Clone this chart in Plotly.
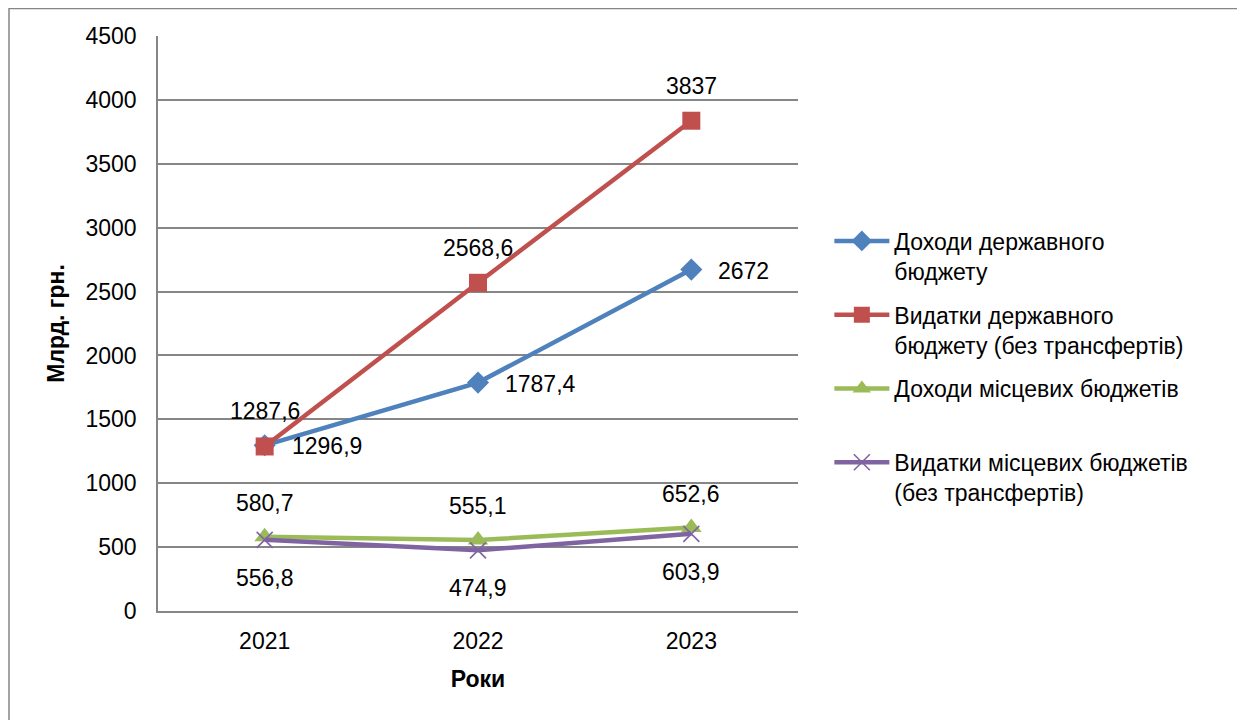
import plotly.graph_objects as go

years = ["2021", "2022", "2023"]
state_revenue = [1296.9, 1787.4, 2672]
state_spending = [1287.6, 2568.6, 3837]
local_revenue = [580.7, 555.1, 652.6]
local_spending = [556.8, 474.9, 603.9]

names = [
    "Доходи державного<br>бюджету",
    "Видатки державного<br>бюджету (без трансфертів)",
    "Доходи місцевих бюджетів<br> ",
    "Видатки місцевих бюджетів<br>(без трансфертів)",
]
y_ticks = list(range(0, 4501, 500))

FONT = "Liberation Sans, Arial, sans-serif"
FS = 23


def fmt(v):
    return f"{v:g}".replace(".", ",")


fig = go.Figure()
series = [
    (state_revenue, "#4F81BD", dict(symbol="diamond", size=17)),
    (state_spending, "#C0504D", dict(symbol="square", size=18)),
    (local_revenue, "#9BBB59", dict(symbol="triangle-up", size=18)),
    (local_spending, "#8064A2", dict(symbol="x-thin", size=16,
                                     line=dict(width=1.6, color="#8064A2"))),
]
for i, (vals, color, marker) in enumerate(series):
    fig.add_trace(go.Scatter(
        x=years, y=vals, name=names[i], mode="lines+markers",
        line=dict(color=color, width=4.5),
        marker=dict(color=color, **marker),
        legendgroup=str(i),
    ))

# data labels
label_style = [
    (state_revenue, dict(xanchor="left", xshift=25, yshift=-1)),
    (state_spending, dict(xanchor="center", yshift=35)),
    (local_revenue, dict(xanchor="center", yshift=34)),
    (local_spending, dict(xanchor="center", yshift=-38)),
]
for vals, style in label_style:
    for k, v in enumerate(vals):
        fig.add_annotation(x=k, y=v, xref="x", yref="y", text=fmt(v),
                           showarrow=False,
                           font=dict(size=FS, color="black", family=FONT),
                           **style)

fig.add_shape(type="rect", xref="paper", yref="paper",
              x0=-0.2328, x1=1.9, y0=-0.4, y1=1.0478,
              line=dict(color="#868686", width=1.5), layer="below")

fig.update_layout(
    width=1237, height=712,
    margin=dict(l=150, r=447, t=28, b=109),
    paper_bgcolor="white", plot_bgcolor="white",
    font=dict(family=FONT, size=FS, color="black"),
    showlegend=True,
    legend=dict(x=1.049, y=0.681, xanchor="left", yanchor="top",
                valign="top", itemwidth=55, tracegroupgap=11,
                font=dict(size=FS, family=FONT)),
    xaxis=dict(type="category", range=[-0.5, 2.5], showgrid=False,
               showline=True, linecolor="#868686", linewidth=1.5,
               ticks="", ticklabelstandoff=9,
               title=dict(text="<b>Роки</b>", standoff=18,
                          font=dict(size=FS, family=FONT))),
    yaxis=dict(range=[0, 4500], tickvals=y_ticks, showgrid=True,
               gridcolor="#868686", gridwidth=1.5, zeroline=False,
               showline=True, linecolor="#868686", linewidth=1.5,
               ticks="", ticklabelstandoff=15,
               title=dict(text="<b>Млрд. грн.</b>", standoff=14,
                          font=dict(size=FS, family=FONT))),
)

fig.write_html("out.html")
